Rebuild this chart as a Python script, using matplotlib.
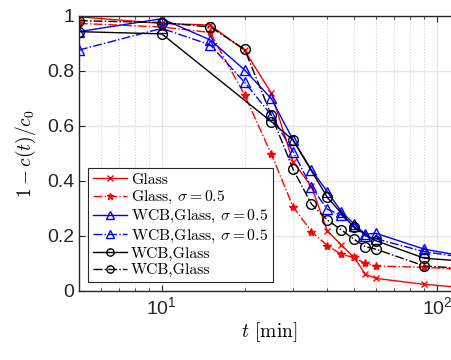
import numpy as np
import matplotlib
matplotlib.use("Agg")
import matplotlib.pyplot as plt
from matplotlib.ticker import LogLocator, NullFormatter

plt.rcParams['font.family'] = ['Liberation Sans', 'DejaVu Sans']
plt.rcParams['mathtext.fontset'] = 'dejavusans'

# sampling times [min]
t_all = [5, 10, 15, 20, 25, 30, 35, 40, 45, 50, 55, 60, 90, 120]
t_bs = [5, 10, 25, 30, 40, 50, 60, 90, 120]

glass = [0.997, 0.973, 0.967, 0.875, 0.72, 0.47, 0.38, 0.218, 0.167, 0.122, 0.061, 0.046, 0.024, 0.014]
glass_s = [0.973, 0.96, 0.94, 0.713, 0.498, 0.307, 0.216, 0.165, 0.133, 0.122, 0.10, 0.091, 0.086, 0.079]
wcb_s1 = [0.943, 0.99, 0.913, 0.804, 0.70, 0.55, 0.44, 0.361, 0.288, 0.244, 0.206, 0.21, 0.152, 0.13]
wcb_s2 = [0.876, 0.955, 0.895, 0.759, 0.64, 0.507, 0.377, 0.297, 0.276, 0.235, 0.20, 0.19, 0.143, 0.125]
wcb_1 = [0.943, 0.935, 0.616, 0.549, 0.34, 0.231, 0.183, 0.119, 0.11]
wcb_2 = [0.983, 0.976, 0.96, 0.879, 0.64, 0.443, 0.316, 0.258, 0.222, 0.188, 0.161, 0.152, 0.091, 0.083]

fig = plt.figure(figsize=(4.51, 3.6), dpi=100)
ax = fig.add_axes([0.175, 0.1917, 0.842, 0.7639])

lw = 1.0
ax.plot(t_all, glass, '-', color='r', marker='x', ms=5, mew=1, lw=lw, label='Glass')
ax.plot(t_all, glass_s, '-.', color='r', marker='*', ms=6, mew=1, lw=lw, label=r'Glass, $\sigma = 0.5$')
ax.plot(t_all, wcb_s1, '-', color='b', marker='^', ms=7, mfc='none', mew=1, lw=lw, label=r'WCB,Glass, $\sigma = 0.5$')
ax.plot(t_all, wcb_s2, '-.', color='b', marker='^', ms=7, mfc='none', mew=1, lw=lw, label=r'WCB,Glass, $\sigma = 0.5$')
ax.plot(t_bs, wcb_1, '-', color='k', marker='o', ms=7, mfc='none', mew=1, lw=lw, label='WCB,Glass')
ax.plot(t_all, wcb_2, '-.', color='k', marker='o', ms=7, mfc='none', mew=1, lw=lw, label='WCB,Glass')

ax.set_xscale('log')
ax.set_xlim(5, 120)
ax.set_ylim(0, 1)
ax.set_yticks([0, 0.2, 0.4, 0.6, 0.8, 1])
ax.set_yticklabels(['0', '0.2', '0.4', '0.6', '0.8', '1'])
ax.xaxis.set_minor_locator(LogLocator(base=10, subs=np.arange(2, 10)))
ax.xaxis.set_minor_formatter(NullFormatter())

ax.grid(True, which='major', color='#e6e6e6', lw=1)
ax.grid(True, which='minor', axis='x', color='#d0d0d0', ls=':', lw=0.8)
ax.set_axisbelow(True)
for s in ax.spines.values():
    s.set_color('#262626')
    s.set_linewidth(1.0)
ax.tick_params(which='both', direction='in', top=True, right=True, colors='#262626',
               labelsize=14, labelcolor='#262626')
ax.tick_params(which='major', length=4)
ax.tick_params(which='minor', length=2)

ax.set_xlabel(r'$t$ [min]', fontsize=14, family='cmr10', math_fontfamily='cm', labelpad=2)
ax.set_ylabel(r'$1 - c(t)/c_0$', fontsize=14, math_fontfamily='cm', labelpad=6)

leg = ax.legend(loc='lower left', bbox_to_anchor=(0.024, 0.033), fancybox=False, framealpha=1,
                edgecolor='#262626', prop={'family': 'cmr10', 'size': 11.3},
                borderpad=0.3, labelspacing=0.14, handlelength=2.2, handletextpad=0.25,
                borderaxespad=0, markerscale=0.75)
leg.get_frame().set_linewidth(0.8)
for txt in leg.get_texts():
    txt.set_math_fontfamily('cm')

fig.savefig('out.png', dpi=100)
